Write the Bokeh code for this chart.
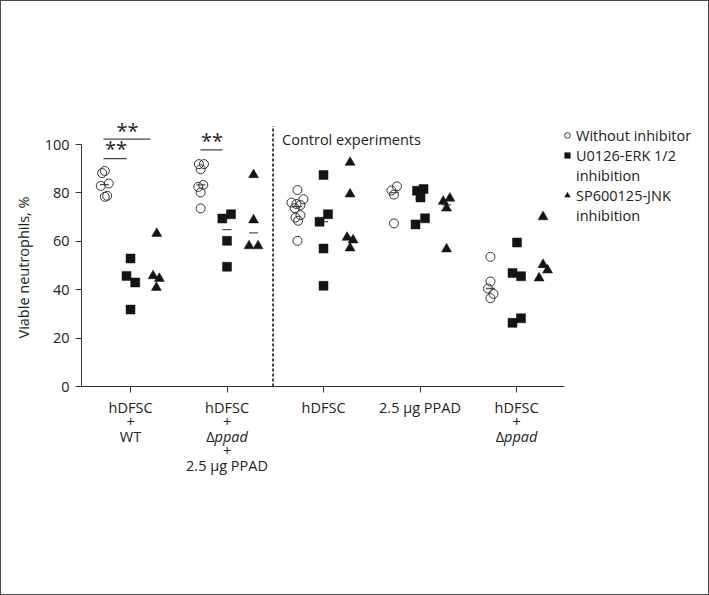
import numpy as np
from bokeh.plotting import figure
from bokeh.layouts import column
from bokeh.models import FixedTicker, Label, Legend, LegendItem, ColumnDataSource, Range1d, Title
from bokeh.core.properties import value
from bokeh.embed import file_html
from bokeh.resources import INLINE

# ---------------- data ----------------
categories = ["hDFSC + WT", "hDFSC + Δppad + 2.5 µg PPAD", "hDFSC", "2.5 µg PPAD", "hDFSC + Δppad"]
category_lines = [
    ["hDFSC", "+", "WT"],
    ["hDFSC", "+", "Δppad", "+", "2.5 µg PPAD"],
    ["hDFSC"],
    ["2.5 µg PPAD"],
    ["hDFSC", "+", "Δppad"],
]
series_names = ["Without inhibitor", "U0126-ERK 1/2", "SP600125-JNK"]
series_second_line = "inhibition"
yticks = [0, 20, 40, 60, 80, 100]

without_inhibitor = [
    [89.1, 88.2, 83.9, 82.9, 78.8, 78.4],
    [91.9, 91.9, 89.8, 83.3, 82.5, 80.2, 73.6],
    [81.2, 77.4, 76.0, 75.4, 75.0, 73.7, 70.8, 69.8, 68.5, 60.2],
    [82.7, 81.0, 79.3, 67.4],
    [53.6, 43.4, 40.5, 38.3, 36.5],
]
u0126_erk = [
    [52.9, 45.7, 43.0, 31.8],
    [71.2, 69.4, 60.2, 49.5],
    [87.4, 71.2, 68.1, 57.0, 41.6],
    [81.6, 80.9, 78.1, 69.5, 67.0],
    [59.5, 46.9, 45.6, 28.2, 26.3],
]
sp600125_jnk = [
    [63.2, 45.7, 44.6, 40.9],
    [87.5, 68.8, 58.1, 58.1],
    [92.6, 79.5, 61.6, 60.5, 57.2],
    [77.8, 76.5, 73.7, 56.8],
    [70.1, 50.4, 48.1, 44.8],
]
# horizontal scatter of the individual points (pixels)
jitter_without = [
    [0.3, -2.3, 4.3, -3.7, 2.7, 0.3],
    [-2, 3, -0.3, 2.3, -2.7, -0.3, -0.3],
    [0, 6, -6, -1, 3, -2.7, 3, -2, 0.7, 0],
    [3, -2.5, 0, 0],
    [0, 0, -2.5, 3, 0],
]
jitter_u0126 = [
    [0, -4, 4.7, 0],
    [4, -4.7, 0, 0],
    [0, 4.5, -4, 0, 0],
    [3.5, -3, 0.5, 5, -4.5],
    [0.5, -4, 4.5, 4.5, -4],
]
jitter_sp = [
    [-0.3, -4, 2.3, -0.7],
    [0, 0, -4.5, 4.5],
    [0, 0, -3, 3, 0],
    [3.3, -3.3, 0, 0],
    [0, 0, 4.5, -4],
]

# ---------------- layout constants ----------------
PX_PER_X = 96.5
FONT = "Open Sans"
FS = "14.5px"
TXT = "#222222"
AX = "#333333"
INK = "#141414"
sub_offset = [-0.27, 0.0, 0.275]
divider_x = 2.477

W = 707
LEFT = 80
x0 = 0.492
xr = Range1d(x0, x0 + (W - LEFT) / PX_PER_X)
p = figure(width=W, height=395, x_range=xr, y_range=Range1d(0, 112),
           output_backend="svg", toolbar_location=None,
           min_border_left=LEFT, min_border_right=0, min_border_top=114, min_border_bottom=10)
p.outline_line_color = None
p.grid.visible = False
p.background_fill_color = "white"
p.border_fill_color = "white"

# axes
p.xaxis.ticker = FixedTicker(ticks=list(range(1, len(categories) + 1)))
p.xaxis.bounds = (x0, 5.5)
p.xaxis.major_label_text_color = None
p.xaxis.major_label_text_font_size = "1px"
p.xaxis.major_label_standoff = 0
p.yaxis.ticker = FixedTicker(ticks=yticks)
p.yaxis.bounds = (0, 100)
for ax in (p.xaxis, p.yaxis):
    ax.axis_line_color = AX
    ax.major_tick_line_color = AX
    ax.major_tick_out = 6
    ax.major_tick_in = 0
    ax.minor_tick_line_color = None
p.yaxis.major_label_text_font = FONT
p.yaxis.major_label_text_font_size = FS
p.yaxis.major_label_text_color = TXT
p.yaxis.major_label_standoff = 6

ytitle = Title(text="Viable neutrophils, %", align="left", offset=48, standoff=17,
               text_font=FONT, text_font_size=FS, text_font_style="normal", text_color=TXT)
p.add_layout(ytitle, "left")


def make_source(series, jitter, k):
    xs, ys = [], []
    for i, (vals, jit) in enumerate(zip(series, jitter)):
        for v, j in zip(vals, jit):
            xs.append(i + 1 + sub_offset[k] + j / PX_PER_X)
            ys.append(v)
    return ColumnDataSource(dict(x=xs, y=ys))


# medians (short horizontal marks)
med_x, med_y = [], []
for k, series in enumerate([without_inhibitor, u0126_erk, sp600125_jnk]):
    for i, vals in enumerate(series):
        med_x.append(i + 1 + sub_offset[k])
        med_y.append(float(np.median(vals)))
p.scatter(x=med_x, y=med_y, marker="dash", size=9, line_color="#555555", line_width=1.3)

r_circ = p.scatter("x", "y", source=make_source(without_inhibitor, jitter_without, 0),
                   marker="circle", size=9, fill_color=None, line_color="#333333", line_width=1)
r_sq = p.scatter("x", "y", source=make_source(u0126_erk, jitter_u0126, 1),
                 marker="square", size=9, fill_color=INK, line_color=INK, line_width=0.5)
r_tri = p.scatter("x", "y", source=make_source(sp600125_jnk, jitter_sp, 2),
                  marker="triangle", size=10, fill_color=INK, line_color=INK, line_width=0.5)

# dashed divider
p.segment(x0=[divider_x], y0=[0], x1=[divider_x], y1=[107.7], line_color="#222222",
          line_width=1.7, line_dash="3 2")
p.add_layout(Label(x=divider_x, y=101.9, x_offset=9, text="Control experiments", text_font=FONT,
                   text_font_size=FS, text_color=TXT, text_baseline="middle", text_align="left"))

# significance bars: (x start, x end, y of bar, x of stars, y of stars)
sig_bars = [(0.72, 1.207, 102.2, 0.969, 106.0),
            (0.72, 0.96, 94.2, 0.850, 98.4),
            (1.725, 1.953, 97.8, 1.845, 101.7)]
p.segment(x0=[b[0] for b in sig_bars], y0=[b[2] for b in sig_bars],
          x1=[b[1] for b in sig_bars], y1=[b[2] for b in sig_bars], line_color="#444444", line_width=1.2)
p.text(x=[b[3] for b in sig_bars], y=[b[4] for b in sig_bars], text=["**"] * len(sig_bars),
       text_font=value(FONT), text_font_size="20px", text_color=TXT,
       text_align="center", text_baseline="middle")

# legend
items = [
    LegendItem(label=series_names[0], renderers=[r_circ]),
    LegendItem(label=series_names[1], renderers=[r_sq]),
    LegendItem(label=series_second_line, renderers=[]),
    LegendItem(label=series_names[2], renderers=[r_tri]),
    LegendItem(label=series_second_line, renderers=[]),
]
legend = Legend(items=items, location=(479, 161), padding=0, margin=0, spacing=0,
                label_height=20, glyph_height=20, glyph_width=14, label_standoff=2,
                border_line_color=None, background_fill_alpha=0,
                label_text_font=FONT, label_text_font_size=FS, label_text_color=TXT)
p.add_layout(legend)

# ---------------- category labels (strip under the axis) ----------------
H2 = 198
q = figure(width=W, height=H2, x_range=xr, y_range=Range1d(H2, 0),
           output_backend="svg", toolbar_location=None,
           x_axis_location=None, y_axis_location=None,
           min_border_left=LEFT, min_border_right=0, min_border_top=0, min_border_bottom=0)
q.outline_line_color = None
q.grid.visible = False
q.background_fill_color = "white"
q.border_fill_color = "white"

line_y0, line_dy = 11.0, 14.5
plain = dict(x=[], y=[], t=[])
delta = dict(x=[], y=[], t=[])
ital = dict(x=[], y=[], t=[])
for i, lines in enumerate(category_lines):
    for j, t in enumerate(lines):
        y = line_y0 + j * line_dy
        if t.startswith("Δ"):
            delta["x"].append(i + 1); delta["y"].append(y); delta["t"].append("Δ")
            ital["x"].append(i + 1); ital["y"].append(y); ital["t"].append(t[1:])
        else:
            plain["x"].append(i + 1); plain["y"].append(y); plain["t"].append(t)
common = dict(text_font=value(FONT), text_font_size=FS, text_color=TXT, text_baseline="middle")
q.text("x", "y", "t", source=ColumnDataSource(plain), text_align="center", **common)
q.text("x", "y", "t", source=ColumnDataSource(delta), text_align="right", x_offset=-12.5, **common)
q.text("x", "y", "t", source=ColumnDataSource(ital), text_align="left", x_offset=-12.5,
       text_font_style="italic", **common)

layout = column(p, q, spacing=0, styles={"border": "1px solid #4a4a4a"})
open("out.html", "w").write(file_html(layout, INLINE))
